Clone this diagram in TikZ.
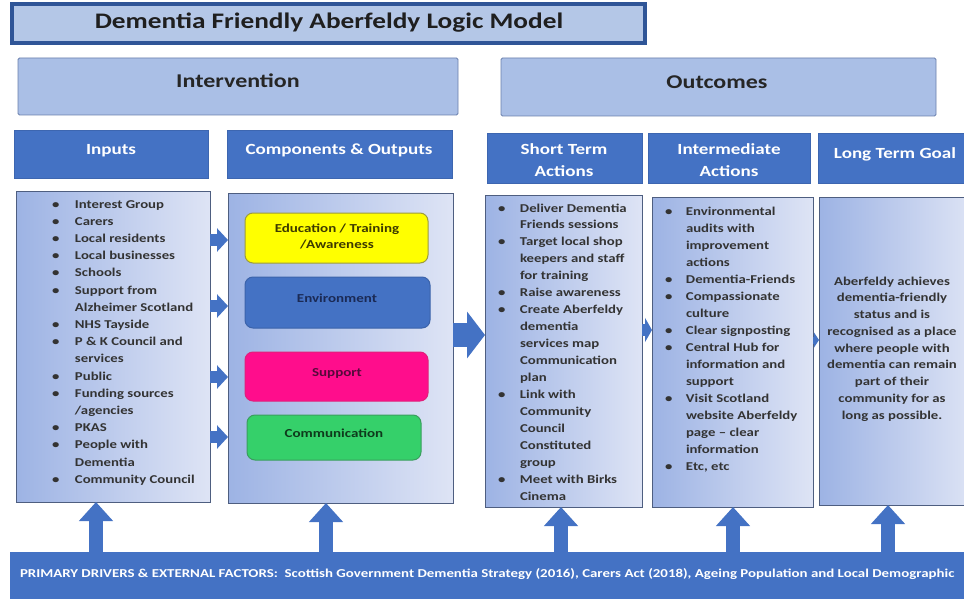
\documentclass[tikz,border=0pt]{standalone}
\usepackage{fontspec}
\setmainfont{Carlito}[FakeStretch=1.23]
\usetikzlibrary{arrows.meta}
\definecolor{hdr}{HTML}{4472C4}
\definecolor{hdrline}{HTML}{3D66B0}
\definecolor{titlefill}{HTML}{B4C7E7}
\definecolor{titleline}{HTML}{2F5597}
\definecolor{secfill}{HTML}{AABFE6}
\definecolor{secline}{HTML}{6B80AD}
\definecolor{gleft}{HTML}{9DB3E4}
\definecolor{gright}{HTML}{DEE4F5}
\definecolor{cline}{HTML}{4E5E80}
\definecolor{listc}{HTML}{333333}
\definecolor{yel}{HTML}{FFFF00}
\definecolor{yelline}{HTML}{9C9B3C}
\definecolor{yeltext}{HTML}{3D3A00}
\definecolor{envfill}{HTML}{4472C4}
\definecolor{envline}{HTML}{3B63AA}
\definecolor{envtext}{HTML}{1B2A55}
\definecolor{supfill}{HTML}{FF0D8C}
\definecolor{supline}{HTML}{E0207A}
\definecolor{suptext}{HTML}{55093A}
\definecolor{comfill}{HTML}{35D06A}
\definecolor{comline}{HTML}{3A9E5E}
\definecolor{comtext}{HTML}{0E3A1C}
\tikzset{
  boxn/.style={inner sep=0pt, outer sep=0pt, anchor=north west},
  titlebox/.style={boxn, fill=titlefill, draw=titleline, line width=3.5pt},
  secbox/.style={boxn, fill=secfill, draw=secline, line width=0.8pt, rounded corners=1.5pt},
  hdrbox/.style={boxn, fill=hdr, draw=hdrline, line width=0.6pt},
  contentbox/.style={boxn, draw=cline, line width=1pt, left color=gleft, right color=gright},
  innerbox/.style={boxn, rounded corners=8pt, line width=1pt},
  txt/.style={inner sep=0pt, outer sep=0pt, anchor=base},
  hdrtxt/.style={txt, text=white, font=\fontsize{15.5}{21}\selectfont\bfseries},
  sectxt/.style={txt, text=black!85, font=\fontsize{19.5}{22}\selectfont\bfseries},
  innertxt/.style={txt, font=\fontsize{12.2}{17}\selectfont\bfseries},
  listtxt/.style={inner sep=0pt, outer sep=0pt, anchor=base west, text=listc},
  blockarrow/.style={draw=hdr, line width=#1},
}
\begin{document}
\begin{tikzpicture}[x=1pt,y=-1pt]
\clip (0,0) rectangle (964,599);
\fill[white] (0,0) rectangle (964,599);

% title and section boxes
\node[titlebox, minimum width=633pt, minimum height=39pt] (title) at (12,4) {};
\node[txt, font=\fontsize{22.2}{24}\selectfont\bfseries, text=black!88] (titletxt) at (329,29) {Dementia Friendly Aberfeldy Logic Model};

\node[secbox, minimum width=440pt, minimum height=57pt] (interv) at (18,58) {};
\node[sectxt] (intervtxt) at (238,88) {Intervention};
\node[secbox, minimum width=435pt, minimum height=58pt] (outc) at (501,58) {};
\node[sectxt] (outctxt) at (717,89) {Outcomes};

% header boxes
\node[hdrbox, minimum width=194pt, minimum height=48pt] (hinputs) at (14,130) {};
\node[hdrtxt] (hinputstxt) at (111,154) {Inputs};
\node[hdrbox, minimum width=225pt, minimum height=48pt] (hcomp) at (227,130) {};
\node[hdrtxt] (hcomptxt) at (339,154) {Components \& Outputs};
\node[hdrbox, minimum width=155pt, minimum height=50pt] (hshort) at (487,133) {};
\node[hdrtxt] (hshorttxt1) at (564,155) {Short Term};
\node[hdrtxt] (hshorttxt2) at (564,176) {Actions};
\node[hdrbox, minimum width=162pt, minimum height=50pt] (hinter) at (648,133) {};
\node[hdrtxt] (hintertxt1) at (729,155) {Intermediate};
\node[hdrtxt] (hintertxt2) at (729,176) {Actions};
\node[hdrbox, minimum width=157pt, minimum height=50pt] (hlong) at (818,133) {};
\node[hdrtxt] (hlongtxt) at (895,158) {Long Term Goal};

% content boxes
\node[contentbox, minimum width=194pt, minimum height=311pt] (inputs) at (16,191) {};
\node[contentbox, minimum width=225pt, minimum height=310pt] (comp) at (228,193) {};
\node[contentbox, minimum width=157pt, minimum height=312pt] (short) at (485,195) {};
\node[contentbox, minimum width=161pt, minimum height=310pt] (inter) at (652,197) {};
\node[contentbox, minimum width=156pt, minimum height=308pt] (long) at (819,197) {};

% inner component boxes
\node[innerbox, fill=yel, draw=yelline, minimum width=183pt, minimum height=50pt] (edu) at (245,213) {};
\node[innertxt, text=yeltext] (edutxt) at (337,232) {\begin{tabular}[t]{@{}c@{}}Education / Training\\/Awareness\end{tabular}};
\node[innerbox, fill=envfill, draw=envline, minimum width=185pt, minimum height=51pt] (env) at (245,277) {};
\node[innertxt, text=envtext] (envtxt) at (337,302) {Environment};
\node[innerbox, fill=supfill, draw=supline, minimum width=183pt, minimum height=49pt] (sup) at (245,352) {};
\node[innertxt, text=suptext] (suptxt) at (337,376) {Support};
\node[innerbox, fill=comfill, draw=comline, minimum width=174pt, minimum height=45pt] (com) at (247,415) {};
\node[innertxt, text=comtext] (comtxt) at (334,437) {Communication};

% lists
\node[listtxt, font=\fontsize{12}{17.2}\selectfont\bfseries] (inputslist) at (52,208) {%
\begin{tabular}[t]{@{}p{23pt}@{}l@{}}
\textbullet & Interest Group\\
\textbullet & Carers\\
\textbullet & Local residents\\
\textbullet & Local businesses\\
\textbullet & Schools\\
\textbullet & Support from\\
 & Alzheimer Scotland\\
\textbullet & NHS Tayside\\
\textbullet & P \& K Council and\\
 & services\\
\textbullet & Public\\
\textbullet & Funding sources\\
 & /agencies\\
\textbullet & PKAS\\
\textbullet & People with\\
 & Dementia\\
\textbullet & Community Council
\end{tabular}};

\node[listtxt, font=\fontsize{12}{16.95}\selectfont\bfseries] (shortlist) at (498,212) {%
\begin{tabular}[t]{@{}p{22pt}@{}l@{}}
\textbullet & Deliver Dementia\\
 & Friends sessions\\
\textbullet & Target local shop\\
 & keepers and staff\\
 & for training\\
\textbullet & Raise awareness\\
\textbullet & Create Aberfeldy\\
 & dementia\\
 & services map\\
 & Communication\\
 & plan\\
\textbullet & Link with\\
 & Community\\
 & Council\\
 & Constituted\\
 & group\\
\textbullet & Meet with Birks\\
 & Cinema
\end{tabular}};

\node[listtxt, font=\fontsize{12}{17}\selectfont\bfseries] (interlist) at (665,215) {%
\begin{tabular}[t]{@{}p{21pt}@{}l@{}}
\textbullet & Environmental\\
 & audits with\\
 & improvement\\
 & actions\\
\textbullet & Dementia-Friends\\
\textbullet & Compassionate\\
 & culture\\
\textbullet & Clear signposting\\
\textbullet & Central Hub for\\
 & information and\\
 & support\\
\textbullet & Visit Scotland\\
 & website Aberfeldy\\
 & page -- clear\\
 & information\\
\textbullet & Etc, etc
\end{tabular}};

\node[txt, text=listc, font=\fontsize{12}{16.75}\selectfont\bfseries] (longtxt) at (892,285) {%
\begin{tabular}[t]{@{}c@{}}
Aberfeldy achieves\\
dementia-friendly\\
status and is\\
recognised as a place\\
where people with\\
dementia can remain\\
part of their\\
community for as\\
long as possible.
\end{tabular}};

% bottom bar
\node[boxn, fill=hdr, minimum width=965pt, minimum height=53pt] (bar) at (10,552) {};
\node[txt, anchor=base west, text=white, font=\fontsize{12.1}{14}\selectfont\bfseries] (bartxt) at (20,577) {PRIMARY DRIVERS \& EXTERNAL FACTORS:\ \ Scottish Government Dementia Strategy (2016), Carers Act (2018), Ageing Population and Local Demographic};

% arrow anchor coordinates
\coordinate (u1) at (96,0);
\coordinate (u2) at (326,0);
\coordinate (u3) at (561,0);
\coordinate (u4) at (733,0);
\coordinate (u5) at (888,0);
\coordinate (r1) at (0,240);
\coordinate (r2) at (0,306);
\coordinate (r3) at (0,377);
\coordinate (r4) at (0,437);
\coordinate (r5) at (0,335);
\coordinate (r6) at (0,330);
\coordinate (r7) at (0,340);

% up arrows from bar
\foreach \u/\b in {u1/inputs,u2/comp,u3/short,u4/inter,u5/long}
  \draw[blockarrow=14pt, -{Triangle[width=33pt,length=19pt]}] (\u |- bar.north) -- (\u |- \b.south);

% small arrows inputs -> components
\foreach \r in {r1,r2,r3,r4}
  \draw[blockarrow=12pt, -{Triangle[width=23pt,length=11pt]}] (inputs.east |- \r) -- (comp.west |- \r);

% big arrow components -> short term
\draw[blockarrow=24pt, -{Triangle[width=46pt,length=18pt]}] (comp.east |- r5) -- (short.west |- r5);
% short -> intermediate
\draw[blockarrow=12pt, -{Triangle[width=24pt,length=7pt]}] (short.east |- r6) -- (inter.west |- r6);
% intermediate -> long
\draw[blockarrow=7pt, -{Triangle[width=15pt,length=5pt]}] (inter.east |- r7) -- (long.west |- r7);
\end{tikzpicture}
\end{document}
